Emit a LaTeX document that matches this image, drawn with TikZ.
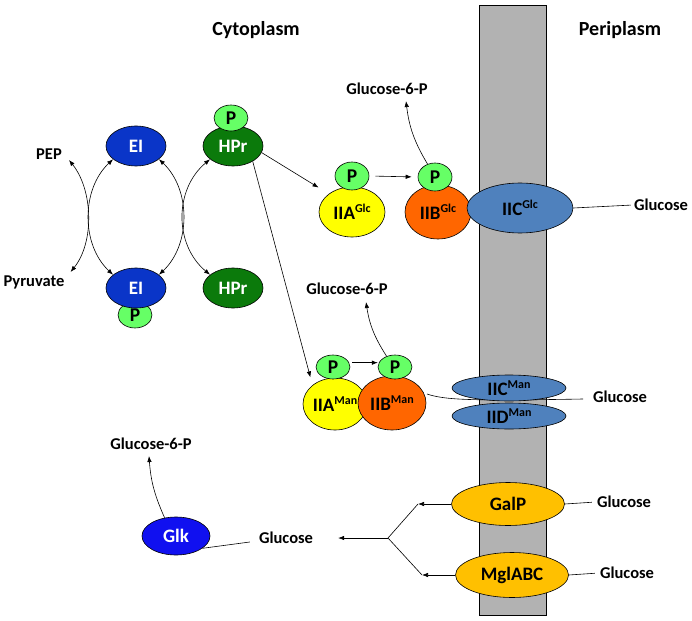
\documentclass[tikz,border=0pt]{standalone}
\usepackage{fontspec}
\setmainfont{Carlito}
\usetikzlibrary{arrows.meta,shapes.geometric}
\definecolor{eiblue}{HTML}{0A35C8}
\definecolor{glkblue}{HTML}{1010F0}
\definecolor{hgreen}{HTML}{0B7A0B}
\definecolor{pgreen}{HTML}{66FF66}
\definecolor{iia}{HTML}{FFFF00}
\definecolor{iib}{HTML}{FF6600}
\definecolor{iic}{HTML}{4F81BD}
\definecolor{gold}{HTML}{FFC000}
\definecolor{memgray}{HTML}{B2B2B2}
\newcommand{\labfont}{\fontsize{16.5}{18}\selectfont\bfseries}
\newcommand{\titfont}{\fontsize{20}{22}\selectfont\bfseries}
\newcommand{\ndfont}{\fontsize{19}{20}\selectfont\bfseries}
\newcommand{\pfont}{\fontsize{19.5}{20}\selectfont\bfseries}
\newcommand{\sups}[1]{\raisebox{7pt}{\fontsize{12}{12}\selectfont #1}}
\begin{document}
\begin{tikzpicture}[x=1pt,y=-1pt,
  ov/.style={ellipse,draw=black,line width=0.6pt,inner sep=0pt,font=\ndfont},
  pcirc/.style={ov,fill=pgreen,minimum width=34pt,minimum height=26pt,font=\pfont},
  lab/.style={font=\labfont,inner sep=1pt},
  tit/.style={font=\titfont,inner sep=1pt},
  arr/.style={-{Latex[length=6pt,width=4.5pt]},line width=0.6pt},
  darr/.style={{Latex[length=6pt,width=4.5pt]}-{Latex[length=6pt,width=4.5pt]},line width=0.6pt},
  ln/.style={line width=0.6pt}]
\useasboundingbox (0,0) rectangle (692,620);

% membrane
\node[draw=black,fill=memgray,line width=0.8pt,minimum width=67pt,minimum height=610pt,inner sep=0pt] (mem) at (512.5,310) {};

% titles
\node[tit] (cyto) at (256,30) {Cytoplasm};
\node[tit] (peri) at (620,30) {Periplasm};

% EI / HPr cycle
\node[lab] (PEP) at (49,154) {PEP};
\node[lab] (Pyr) at (34,282) {Pyruvate};
\node[ov,fill=eiblue,text=white,minimum width=60pt,minimum height=40pt] (EIt) at (136,146) {EI};
\node[ov,fill=hgreen,text=white,minimum width=60pt,minimum height=40pt] (HPr1) at (233,146) {HPr};
\node[pcirc] (HPrP) at (231,118) {P};
\node[pcirc] (EIP) at (135,315) {P};
\node[ov,fill=eiblue,text=white,minimum width=60pt,minimum height=40pt] (EIb) at (136,288) {EI};
\node[ov,fill=hgreen,text=white,minimum width=60pt,minimum height=40pt] (HPr2) at (233,288) {HPr};

\draw[darr] ([shift={(6,6)}]PEP.east) .. controls +(24,30) and +(24,-30) .. ([shift={(5,-10)}]Pyr.east);
\draw[darr] (EIt.210) .. controls +(-32,30) and +(-32,-30) .. (EIb.150);
\draw[darr] (EIt.330) .. controls +(32,30) and +(32,-30) .. (EIb.30);
\draw[darr] (HPr1.210) .. controls +(-36,30) and +(-36,-30) .. (HPr2.150);

% Glc system
\node[lab] (G6P1) at (387,89) {Glucose-6-P};
\node[ov,fill=iia,minimum width=66pt,minimum height=50pt] (IIAg) at (352,212) {IIA\sups{Glc}};
\node[pcirc,minimum height=28pt] (PAg) at (352,176) {P};
\node[ov,fill=iib,minimum width=66pt,minimum height=54pt] (IIBg) at (438,212) {IIB\sups{Glc}};
\node[ov,fill=iic,minimum width=106pt,minimum height=50pt] (IICg) at (520,208) {IIC\sups{Glc}};
\node[pcirc,minimum height=28pt] (PBg) at (435,177) {P};
\node[lab] (GluG) at (661,205) {Glucose};

\draw[arr] (HPr1.347) -- (IIAg.142) [shorten >=12pt];
\draw[arr,shorten <=6pt,shorten >=6pt] (PAg.east) -- (PBg.west);
\draw[arr] (PBg.120) to[bend left=12] ([shift={(19,5)}]G6P1.south);
\draw[ln,shorten >=2pt] (IICg.east) -- (GluG.west);

% Man system
\node[lab] (G6P2) at (347,289) {Glucose-6-P};
\draw[ln] (427,394) coordinate (ms) .. controls (445,400) and (470,401) .. (583,399) coordinate (me);
\node[ov,fill=iia,minimum width=64pt,minimum height=52pt] (IIAm) at (335,404) {IIA\sups{Man}};
\node[ov,fill=iib,minimum width=68pt,minimum height=54pt] (IIBm) at (392,403) {IIB\sups{Man}};
\node[pcirc,minimum height=24pt] (PAm) at (333,367) {P};
\node[pcirc,minimum height=24pt] (PBm) at (395,367) {P};
\node[ov,fill=iic,minimum width=114pt,minimum height=26pt] (IICm) at (509,388) {IIC\sups{Man}};
\node[ov,fill=iic,minimum width=114pt,minimum height=26pt] (IIDm) at (509,416) {IID\sups{Man}};
\node[lab] (GluM) at (620,397) {Glucose};

\draw[arr,shorten >=8pt] (HPr1.322) -- (IIAm.140);
\draw[arr,shorten <=3pt,shorten >=1pt] (PAm.15) -- (PBm.165);
\draw[arr] (PBm.128) to[bend left=12] ([shift={(19,6)}]G6P2.south);

% glucokinase
\node[lab] (G6P3) at (151,444) {Glucose-6-P};
\node[ov,fill=glkblue,text=white,minimum width=68pt,minimum height=38pt] (Glk) at (176,536) {Glk};
\node[lab] (GluK) at (286,538) {Glucose};
\draw[arr] (Glk.122) to[bend left=10] ([shift={(-2,5)}]G6P3.south);
\draw[ln] (Glk.-25) -- ([shift={(-8,4)}]GluK.west);

% GalP / MglABC
\node[ov,fill=gold,minimum width=113pt,minimum height=43pt] (GalP) at (508,504) {GalP};
\node[ov,fill=gold,minimum width=113pt,minimum height=45pt] (Mgl) at (512,575) {MglABC};
\node[lab] (GluGal) at (624,502) {Glucose};
\node[lab] (GluMgl) at (627,573) {Glucose};
\draw[ln,shorten >=4pt] (GalP.east) -- (GluGal.west);
\draw[ln,shorten >=4pt] (Mgl.east) -- (GluMgl.west);
\coordinate (J) at (388,538);
\coordinate (Tu) at (418,504);
\coordinate (Tl) at (422,575);
\draw[arr] (GalP.west) -- (Tu);
\draw[arr] (Mgl.west) -- (Tl);
\draw[ln] (Tu) -- (J) -- (Tl);
\draw[arr,shorten >=24pt] (J) -- (GluK.east);
\end{tikzpicture}
\end{document}
